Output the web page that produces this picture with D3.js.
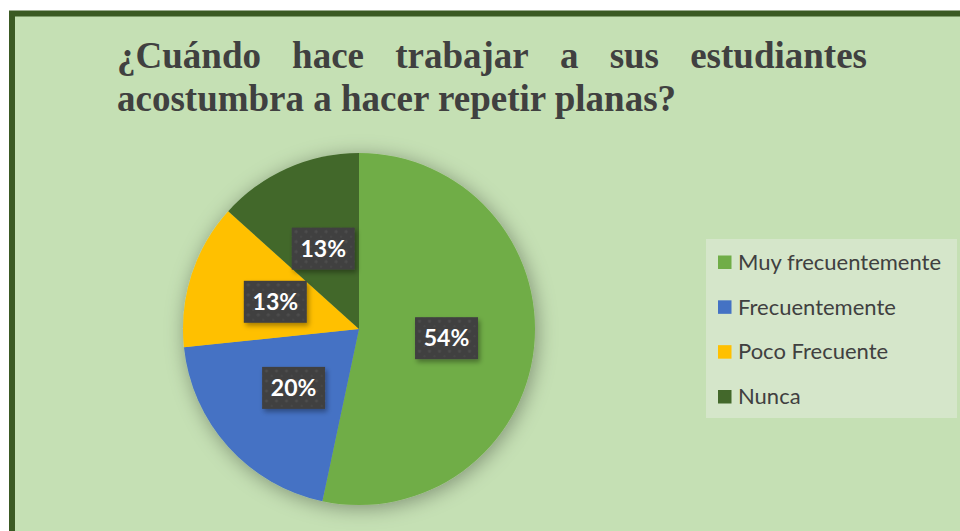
<!DOCTYPE html>
<html>
<head>
<meta charset="utf-8">
<script src="https://cdn.jsdelivr.net/npm/d3@7"></script>
<style>
  html, body { margin: 0; padding: 0; background: #ffffff; }
  svg { display: block; }
</style>
</head>
<body>
<svg id="chart" width="960" height="531"></svg>
<script>
// ---- data ----
const categories = ["Muy frecuentemente", "Frecuentemente", "Poco Frecuente", "Nunca"];
const values = [53.33, 20, 13.33, 13.33];
const valueLabels = ["54%", "20%", "13%", "13%"];
const colors = ["#70ad47", "#4472c4", "#ffc000", "#43682b"];
const titleLine1 = ["¿Cuándo", "hace", "trabajar", "a", "sus", "estudiantes"];
const titleLine2 = "acostumbra a hacer repetir planas?";

const svg = d3.select("#chart");
const W = 960, H = 531;

const defs = svg.append("defs");
const sh = defs.append("filter").attr("id", "pieShadow")
  .attr("x", "-30%").attr("y", "-30%").attr("width", "160%").attr("height", "160%");
sh.append("feDropShadow").attr("dx", 2).attr("dy", 3).attr("stdDeviation", 10)
  .attr("flood-color", "#000").attr("flood-opacity", 0.35);

const bs = defs.append("filter").attr("id", "boxShadow")
  .attr("x", "-30%").attr("y", "-30%").attr("width", "170%").attr("height", "170%");
bs.append("feDropShadow").attr("dx", 2).attr("dy", 3).attr("stdDeviation", 2.5)
  .attr("flood-color", "#000").attr("flood-opacity", 0.35);

const pat = defs.append("pattern").attr("id", "dots")
  .attr("width", 10).attr("height", 10).attr("patternUnits", "userSpaceOnUse");
pat.append("rect").attr("width", 10).attr("height", 10).attr("fill", "#404040");
pat.append("circle").attr("cx", 3).attr("cy", 3).attr("r", 1.6).attr("fill", "#4e4e4e");
pat.append("circle").attr("cx", 8).attr("cy", 8).attr("r", 1.2).attr("fill", "#474747");

// background + border
svg.append("rect").attr("x", 0).attr("y", 0).attr("width", W).attr("height", H).attr("fill", "#ffffff");
svg.append("rect").attr("x", 12).attr("y", 13.5).attr("width", W + 20).attr("height", H + 20)
  .attr("fill", "#c5e0b4").attr("stroke", "#3b5a23").attr("stroke-width", 6);

// title
const titleG = svg.append("g")
  .attr("font-family", "'Liberation Serif', 'Times New Roman', serif")
  .attr("font-weight", "bold").attr("font-size", 37).attr("fill", "#404040");
const x0 = 117, x1 = 867;
const words = titleG.selectAll("text.w").data(titleLine1).join("text")
  .attr("class", "w").attr("y", 68).text(d => d);
const widths = [];
words.each(function () { widths.push(this.getComputedTextLength()); });
const gap = (x1 - x0 - d3.sum(widths)) / (titleLine1.length - 1);
let cx = x0;
words.attr("x", (d, i) => { const v = cx; cx += widths[i] + gap; return v; });
titleG.append("text").attr("x", x0).attr("y", 111).text(titleLine2);

// pie
const center = [359, 329];
const r = 176;
const pie = d3.pie().sort(null).value(d => d.v);
const data = categories.map((c, i) => ({ c, v: values[i], lab: valueLabels[i], col: colors[i] }));
const arcs = pie(data);
const arc = d3.arc().innerRadius(0).outerRadius(r);
const labelArc = d3.arc().innerRadius(r * 0.5).outerRadius(r * 0.5);

const pg = svg.append("g").attr("transform", `translate(${center[0]},${center[1]})`);
pg.append("g").attr("filter", "url(#pieShadow)")
  .selectAll("path").data(arcs).join("path")
  .attr("d", arc).attr("fill", d => d.data.col);

const lg = pg.selectAll("g.lab").data(arcs).join("g").attr("class", "lab")
  .attr("transform", d => `translate(${labelArc.centroid(d)})`);
lg.append("rect").attr("x", -31.5).attr("y", -21).attr("width", 63).attr("height", 42)
  .attr("fill", "url(#dots)").attr("filter", "url(#boxShadow)");
lg.append("text").attr("text-anchor", "middle").attr("dy", "0.36em")
  .attr("font-family", "Lato, 'Open Sans', sans-serif").attr("font-weight", "bold")
  .attr("font-size", 23).attr("fill", "#ffffff").text(d => d.data.lab);

// legend
const leg = svg.append("g");
leg.append("rect").attr("x", 706).attr("y", 239).attr("width", 251).attr("height", 179).attr("fill", "#d5e6ca");
const yLeg = d3.scalePoint().domain(categories).range([262, 396.5]);
const items = leg.selectAll("g.it").data(data).join("g").attr("class", "it")
  .attr("transform", d => `translate(718,${yLeg(d.c)})`);
items.append("rect").attr("x", 0).attr("y", -6.5).attr("width", 13.5).attr("height", 13.5).attr("fill", d => d.col);
items.append("text").attr("x", 20).attr("dy", "0.35em")
  .attr("font-family", "Lato, 'Open Sans', sans-serif").attr("font-size", 22)
  .attr("fill", "#404040").text(d => d.c);
</script>
</body>
</html>
